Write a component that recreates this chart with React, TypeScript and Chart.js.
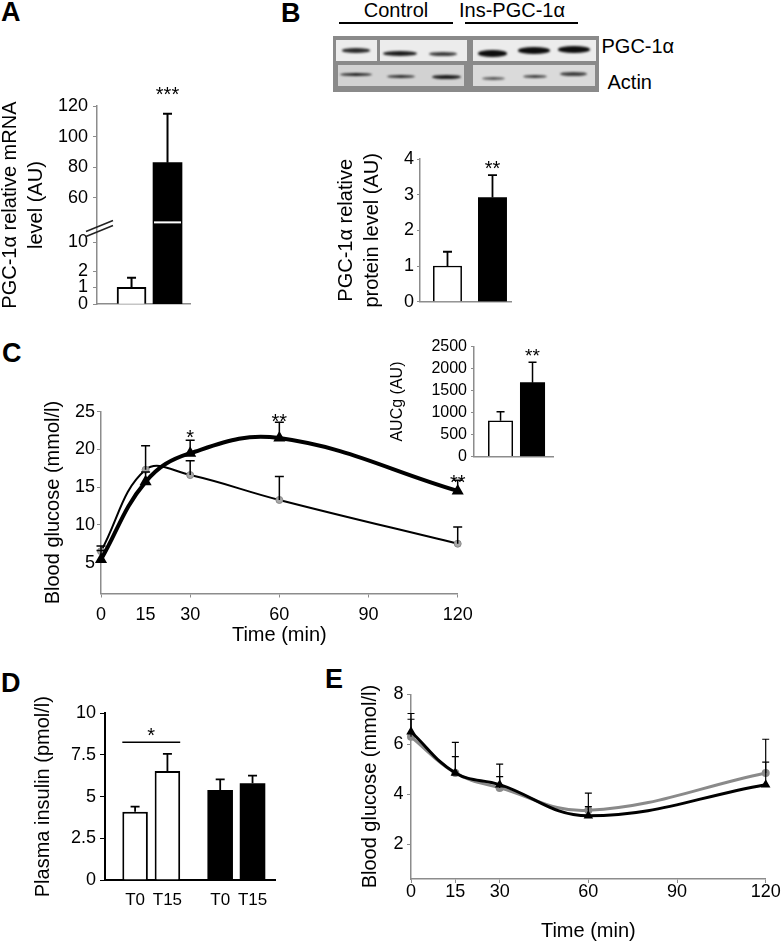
import React, { useEffect, useRef } from 'react';
import { Chart, registerables } from 'chart.js';

Chart.register(...registerables);

const FONT = "'Liberation Sans', Arial, Helvetica, sans-serif";
Chart.defaults.font.family = FONT;
Chart.defaults.color = '#000';

// ---------------- Panel A: PGC-1α mRNA ----------------
const A_GROUPS = ['Control', 'Ins-PGC-1α'];
const A_VALUES = [1, 83];
const A_ERR_TOP = [1.6, 115];
const A_STARS = ['', '***'];
const A_STAR_AT = [null, 131];
const A_TICKS = [0, 1, 2, 10, 60, 80, 100, 120];
// broken axis: value knots and their relative spacing on the axis
const A_AXIS_KNOTS = [0, 1, 2, 10, 40, 120];
const A_AXIS_SPACING = [0, 17, 33, 62, 76, 199];
const A_GAP_AT = 44;
const A_BREAK_AT = 38;

// ---------------- Panel B: PGC-1α protein ----------------
const B_GROUPS = ['Control', 'Ins-PGC-1α'];
const B_VALUES = [1.0, 2.92];
const B_ERR_TOP = [1.4, 3.55];
const B_STARS = ['', '**'];
const B_STAR_AT = [null, 3.88];
const B_TICKS = [0, 1, 2, 3, 4];

// ---------------- Panel C: IPGTT ----------------
const C_TIME = [0, 15, 30, 60, 120];
const C_CONTROL = [6.5, 17.3, 16.6, 13.3, 7.5];
const C_CONTROL_ERR_TOP = [7.2, 20.5, 18.5, 16.4, 9.7];
const C_INS = [5.4, 15.7, 19.5, 21.5, 14.5];
const C_INS_ERR_TOP = [6.6, 17.0, 21.2, 23.6, 15.9];
const C_STARS = ['', '', '*', '**', '**'];
const C_STAR_AT = [null, null, 22.2, 24.4, 16.3];
const C_Y_TICKS = [5, 10, 15, 20, 25];
const C_X_TICKS = [0, 15, 30, 60, 90, 120];
const C_X_NO_MARK = [15];

// ---------------- Panel C inset: AUCg ----------------
const AUC_GROUPS = ['Control', 'Ins-PGC-1α'];
const AUC_VALUES = [810, 1680];
const AUC_ERR_TOP = [1020, 2145];
const AUC_STARS = ['', '**'];
const AUC_STAR_AT = [null, 2390];
const AUC_TICKS = [0, 500, 1000, 1500, 2000, 2500];

// ---------------- Panel D: plasma insulin ----------------
const D_GROUPS = ['Control', 'Ins-PGC-1α'];
const D_TIME_LABELS = ['T0', 'T15'];
const D_T0 = [4.1, 5.4];
const D_T0_ERR_TOP = [4.4, 6.04];
const D_T15 = [6.54, 5.8];
const D_T15_ERR_TOP = [7.56, 6.26];
const D_SIG_AT = 8.26;
const D_SIG_STAR_AT = 8.94;
const D_SIG_TEXT = '*';
const D_TICKS = [0, 2.5, 5, 7.5, 10];

// ---------------- Panel E: ITT ----------------
const E_TIME = [0, 15, 30, 60, 120];
const E_CONTROL = [6.3, 4.85, 4.25, 3.35, 4.85];
const E_CONTROL_ERR_TOP = [7.0, 6.07, 5.2, 4.04, 6.2];
const E_INS = [6.5, 4.85, 4.38, 3.13, 4.38];
const E_INS_ERR_TOP = [7.23, 5.5, 4.7, 3.5, 5.28];
const E_Y_TICKS = [2, 4, 6, 8];
const E_X_TICKS = [0, 15, 30, 60, 90, 120];

// ---------------- styling ----------------
const AXIS_GRAY = '#8c8c8c';
const CTRL_GRAY = '#8a8a8a';

type Box = { left: number; top: number; width: number; height: number };
type Area = { left: number; top: number; right: number; bottom: number };

function piecewise(v: number, xs: number[], ys: number[]) {
  for (let i = 1; i < xs.length; i++) {
    if (v <= xs[i] || i === xs.length - 1) {
      const t = (v - xs[i - 1]) / (xs[i] - xs[i - 1]);
      return ys[i - 1] + t * (ys[i] - ys[i - 1]);
    }
  }
  return ys[0];
}
const fA = (v: number) => piecewise(v, A_AXIS_KNOTS, A_AXIS_SPACING);

function layoutFor(box: Box, area: Area) {
  return {
    padding: {
      left: 0,
      top: area.top - box.top,
      right: box.left + box.width - area.right,
      bottom: 0,
    },
    yWidth: area.left - box.left,
    xHeight: box.top + box.height - area.bottom,
  };
}

function yAxis(L: any, o: any) {
  return {
    type: 'linear',
    min: o.min,
    max: o.max,
    offset: false,
    afterFit: (s: any) => {
      s.width = L.yWidth;
    },
    afterBuildTicks: (s: any) => {
      s.ticks = o.ticks.map((v: number) => ({ value: v }));
    },
    ticks: {
      autoSkip: false,
      padding: o.tickPad,
      font: { size: o.tickSize },
      color: '#000',
      callback: o.cb || ((v: any) => String(v)),
    },
    grid: {
      display: true,
      drawOnChartArea: false,
      drawTicks: true,
      tickLength: o.tickLen,
      color: o.color,
      lineWidth: 1,
    },
    border: { display: true, color: o.color, width: o.axisWidth || 1.5 },
    title: o.title
      ? {
          display: true,
          text: o.title,
          color: '#000',
          font: { size: o.titleSize, lineHeight: o.titleLH },
          padding: { top: o.titlePad, bottom: 0 },
        }
      : { display: false },
  };
}

function xAxis(L: any, o: any) {
  return {
    type: 'linear',
    min: o.min,
    max: o.max,
    offset: false,
    afterFit: (s: any) => {
      s.height = L.xHeight;
    },
    afterBuildTicks: (s: any) => {
      s.ticks = o.ticks.map((v: number) => ({ value: v }));
    },
    ticks: {
      display: !!o.showLabels,
      autoSkip: false,
      maxRotation: 0,
      padding: o.tickPad || 0,
      font: { size: o.tickSize || 18 },
      color: '#000',
      callback: (v: any) => String(v),
    },
    grid: {
      display: !!o.showMarks,
      offset: false,
      drawOnChartArea: false,
      drawTicks: true,
      tickLength: o.tickLen || 4,
      color: o.markColor || o.color,
      lineWidth: 1,
    },
    border: { display: true, color: o.color, width: o.axisWidth || 1.5 },
    title: o.title
      ? {
          display: true,
          text: o.title,
          color: '#000',
          font: { size: 20, lineHeight: 1.2 },
          padding: { top: 0, bottom: o.titlePad },
        }
      : { display: false },
  };
}

// error bars (upward only) and significance stars
const decor = {
  id: 'decor',
  afterDatasetsDraw(chart: any, _args: any, opts: any) {
    const ctx = chart.ctx;
    const y = chart.scales.y;
    chart.data.datasets.forEach((ds: any, di: number) => {
      const meta = chart.getDatasetMeta(di);
      meta.data.forEach((el: any, i: number) => {
        if (ds.errTop && ds.errTop[i] != null) {
          const top = y.getPixelForValue(ds.errTop[i]);
          ctx.save();
          ctx.strokeStyle = ds.errColor || '#000';
          ctx.lineWidth = ds.errWidth || 1.5;
          ctx.beginPath();
          ctx.moveTo(el.x, el.y);
          ctx.lineTo(el.x, top);
          const cw = ds.errCap || 4;
          ctx.moveTo(el.x - cw, top);
          ctx.lineTo(el.x + cw, top);
          ctx.stroke();
          ctx.restore();
        }
      });
    });
    chart.data.datasets.forEach((ds: any, di: number) => {
      const meta = chart.getDatasetMeta(di);
      meta.data.forEach((el: any, i: number) => {
        if (ds.stars && ds.stars[i]) {
          const size = (opts && opts.starSize) || 20;
          const sy = y.getPixelForValue(ds.starAt[i]);
          ctx.save();
          ctx.font = `${size}px ${FONT}`;
          ctx.textAlign = 'center';
          ctx.textBaseline = 'alphabetic';
          ctx.fillStyle = '#000';
          ctx.fillText(ds.stars[i], el.x, sy + 0.57 * size);
          ctx.restore();
        }
      });
    });
  },
};

// panel A: white gap through the tall bar and the // axis break marks
const aBreak = {
  id: 'aBreak',
  afterDraw(chart: any) {
    const ctx = chart.ctx;
    const y = chart.scales.y;
    const el = chart.getDatasetMeta(0).data[1];
    const gy = y.getPixelForValue(fA(A_GAP_AT));
    ctx.save();
    ctx.fillStyle = '#fff';
    ctx.fillRect(el.x - el.width / 2 + 1, gy - 1, el.width - 2, 2);
    const by = y.getPixelForValue(fA(A_BREAK_AT));
    const ax = chart.chartArea.left;
    ctx.strokeStyle = '#222';
    ctx.lineWidth = 1.5;
    ctx.beginPath();
    ctx.moveTo(ax - 11, by + 2);
    ctx.lineTo(ax + 16, by - 9);
    ctx.moveTo(ax - 11, by + 7);
    ctx.lineTo(ax + 16, by - 4);
    ctx.stroke();
    ctx.restore();
  },
};

// panel D: T0/T15 labels under bars + significance bracket
const dExtras = {
  id: 'dExtras',
  afterDatasetsDraw(chart: any) {
    const ctx = chart.ctx;
    const y = chart.scales.y;
    const labelY = chart.chartArea.bottom + 20;
    ctx.save();
    ctx.font = `17px ${FONT}`;
    ctx.fillStyle = '#000';
    ctx.textAlign = 'center';
    ctx.textBaseline = 'middle';
    chart.data.datasets.forEach((ds: any, di: number) => {
      chart.getDatasetMeta(di).data.forEach((el: any) => {
        ctx.fillText(ds.label, el.x, labelY);
      });
    });
    const a = chart.getDatasetMeta(0).data[0];
    const b = chart.getDatasetMeta(1).data[0];
    const ly = y.getPixelForValue(D_SIG_AT);
    ctx.strokeStyle = '#000';
    ctx.lineWidth = 1.5;
    ctx.beginPath();
    ctx.moveTo(a.x - a.width / 2, ly);
    ctx.lineTo(b.x + b.width / 2, ly);
    ctx.stroke();
    const sy = y.getPixelForValue(D_SIG_STAR_AT);
    ctx.font = `20px ${FONT}`;
    ctx.textBaseline = 'alphabetic';
    ctx.fillText(D_SIG_TEXT, (a.x + b.x) / 2, sy + 0.57 * 20);
    ctx.restore();
  },
};

function baseOptions(L: any) {
  return {
    responsive: false,
    animation: false,
    devicePixelRatio: 1,
    events: [],
    layout: { padding: L.padding },
    plugins: { legend: { display: false }, tooltip: { enabled: false }, decor: {} },
  };
}

// ---------------- chart configs ----------------
const A_BOX: Box = { left: 0, top: 60, width: 200, height: 260 };
const A_AREA: Area = { left: 97, top: 106, right: 190, bottom: 305 };
function configA() {
  const L = layoutFor(A_BOX, A_AREA);
  return {
    type: 'bar',
    data: {
      datasets: [
        {
          label: 'mRNA',
          data: A_VALUES.map((v, i) => ({ x: i, y: fA(v) })),
          backgroundColor: ['#ffffff', '#000000'],
          borderColor: '#000',
          borderWidth: [2, 0],
          borderSkipped: 'bottom',
          barThickness: 29,
          errTop: A_ERR_TOP.map(fA),
          errWidth: 2,
          errCap: 4.5,
          stars: A_STARS,
          starAt: A_STAR_AT.map((v) => (v == null ? null : fA(v))),
          groups: A_GROUPS,
        },
      ],
    },
    options: {
      ...baseOptions(L),
      scales: {
        x: xAxis(L, { min: -0.96, max: 1.625, ticks: [0, 1], color: AXIS_GRAY }),
        y: yAxis(L, {
          min: 0,
          max: fA(120),
          ticks: A_TICKS.map(fA),
          cb: (_v: any, i: number) => String(A_TICKS[i]),
          tickPad: 5,
          tickLen: 4,
          tickSize: 18,
          color: AXIS_GRAY,
          title: ['PGC-1α relative mRNA', 'level (AU)'],
          titleSize: 20,
          titleLH: 1.3,
          titlePad: -3,
        }),
      },
    },
    plugins: [decor, aBreak],
  };
}

const B_BOX: Box = { left: 330, top: 140, width: 200, height: 180 };
const B_AREA: Area = { left: 420, top: 159, right: 511.7, bottom: 301.7 };
function configB() {
  const L = layoutFor(B_BOX, B_AREA);
  return {
    type: 'bar',
    data: {
      datasets: [
        {
          label: 'protein',
          data: B_VALUES.map((v, i) => ({ x: i, y: v })),
          backgroundColor: ['#ffffff', '#000000'],
          borderColor: '#000',
          borderWidth: [1.5, 0],
          borderSkipped: 'bottom',
          barThickness: 28.3,
          errTop: B_ERR_TOP,
          errWidth: 1.8,
          errCap: 4.5,
          stars: B_STARS,
          starAt: B_STAR_AT,
          groups: B_GROUPS,
        },
      ],
    },
    options: {
      ...baseOptions(L),
      scales: {
        x: xAxis(L, { min: -0.611, max: 1.427, ticks: [0, 1], color: AXIS_GRAY }),
        y: yAxis(L, {
          min: 0,
          max: 4,
          ticks: B_TICKS,
          tickPad: 3,
          tickLen: 3,
          tickSize: 18,
          color: AXIS_GRAY,
          title: ['PGC-1α relative', 'protein level (AU)'],
          titleSize: 20,
          titleLH: 1.3,
          titlePad: 3.7,
        }),
      },
    },
    plugins: [decor],
  };
}

const C_BOX: Box = { left: 0, top: 380, width: 480, height: 268 };
const C_AREA: Area = { left: 101, top: 411.7, right: 457.7, bottom: 593.5 };
function configC() {
  const L = layoutFor(C_BOX, C_AREA);
  return {
    type: 'line',
    data: {
      datasets: [
        {
          label: 'Ins-PGC-1α',
          data: C_TIME.map((t, i) => ({ x: t, y: C_INS[i] })),
          borderColor: '#000',
          borderWidth: 4,
          tension: 0.4,
          pointStyle: 'triangle',
          pointRadius: 3,
          pointBackgroundColor: '#000',
          pointBorderColor: '#000',
          clip: false,
          errTop: C_INS_ERR_TOP,
          errWidth: 1.5,
          errCap: 4.5,
          stars: C_STARS,
          starAt: C_STAR_AT,
        },
        {
          label: 'Control',
          data: C_TIME.map((t, i) => ({ x: t, y: C_CONTROL[i] })),
          borderColor: '#000',
          borderWidth: 2,
          tension: 0.4,
          pointStyle: 'circle',
          pointRadius: 3.5,
          pointBackgroundColor: '#a8a8a8',
          pointBorderColor: '#8a8a8a',
          pointBorderWidth: 1,
          clip: false,
          errTop: C_CONTROL_ERR_TOP,
          errWidth: 1.5,
          errCap: 4.5,
        },
      ],
    },
    options: {
      ...baseOptions(L),
      scales: {
        x: xAxis(L, {
          min: 0,
          max: 120,
          ticks: C_X_TICKS,
          showLabels: true,
          showMarks: true,
          tickLen: 4,
          tickPad: 6.7,
          tickSize: 18,
          color: AXIS_GRAY,
          markColor: (c: any) =>
            c.tick && C_X_NO_MARK.includes(c.tick.value) ? 'rgba(0,0,0,0)' : AXIS_GRAY,
          title: 'Time (min)',
          titlePad: 1,
        }),
        y: yAxis(L, {
          min: 0.9,
          max: 25,
          ticks: C_Y_TICKS,
          tickPad: 2,
          tickLen: 4,
          tickSize: 18,
          color: AXIS_GRAY,
          title: 'Blood glucose (mmol/l)',
          titleSize: 20,
          titleLH: 1.2,
          titlePad: 41,
        }),
      },
    },
    plugins: [decor],
  };
}

const AUC_BOX: Box = { left: 380, top: 330, width: 180, height: 140 };
const AUC_AREA: Area = { left: 474, top: 346.7, right: 553.3, bottom: 456.7 };
function configAUC() {
  const L = layoutFor(AUC_BOX, AUC_AREA);
  return {
    type: 'bar',
    data: {
      datasets: [
        {
          label: 'AUCg',
          data: AUC_VALUES.map((v, i) => ({ x: i, y: v })),
          backgroundColor: ['#ffffff', '#000000'],
          borderColor: '#000',
          borderWidth: [1.5, 0],
          borderSkipped: 'bottom',
          barThickness: 24.4,
          errTop: AUC_ERR_TOP,
          errWidth: 1.5,
          errCap: 4,
          stars: AUC_STARS,
          starAt: AUC_STAR_AT,
          groups: AUC_GROUPS,
        },
      ],
    },
    options: {
      ...baseOptions(L),
      plugins: { legend: { display: false }, tooltip: { enabled: false }, decor: { starSize: 19 } },
      scales: {
        x: xAxis(L, { min: -0.83, max: 1.65, ticks: [0, 1], color: AXIS_GRAY }),
        y: yAxis(L, {
          min: 0,
          max: 2500,
          ticks: AUC_TICKS,
          tickPad: 4,
          tickLen: 3,
          tickSize: 16,
          color: AXIS_GRAY,
          title: 'AUCg (AU)',
          titleSize: 16,
          titleLH: 1.2,
          titlePad: 8.4,
        }),
      },
    },
    plugins: [decor],
  };
}

const D_BOX: Box = { left: 0, top: 690, width: 290, height: 230 };
const D_AREA: Area = { left: 105, top: 713.3, right: 275, bottom: 880 };
function configD() {
  const L = layoutFor(D_BOX, D_AREA);
  const mk = (label: string, vals: number[], errs: number[]) => ({
    label,
    data: vals.map((v, i) => ({ x: i, y: v })),
    backgroundColor: ['#ffffff', '#000000'],
    borderColor: '#000',
    borderWidth: [2, 0],
    borderSkipped: 'bottom',
    categoryPercentage: 0.76,
    barPercentage: 0.79,
    errTop: errs,
    errWidth: 1.8,
    errCap: 4.5,
    groups: D_GROUPS,
  });
  return {
    type: 'bar',
    data: {
      datasets: [
        mk(D_TIME_LABELS[0], D_T0, D_T0_ERR_TOP),
        mk(D_TIME_LABELS[1], D_T15, D_T15_ERR_TOP),
      ],
    },
    options: {
      ...baseOptions(L),
      scales: {
        x: xAxis(L, { min: -0.5435, max: 1.454, ticks: [0, 1], color: '#000', axisWidth: 2 }),
        y: yAxis(L, {
          min: 0,
          max: 10,
          ticks: D_TICKS,
          tickPad: 4,
          tickLen: 5,
          tickSize: 18,
          color: '#000',
          axisWidth: 2,
          title: 'Plasma insulin (pmol/l)',
          titleSize: 20,
          titleLH: 1.2,
          titlePad: 31.3,
        }),
      },
    },
    plugins: [decor, dExtras],
  };
}

const E_BOX: Box = { left: 320, top: 680, width: 464, height: 264 };
const E_AREA: Area = { left: 411, top: 693.3, right: 765.7, bottom: 879 };
function configE() {
  const L = layoutFor(E_BOX, E_AREA);
  return {
    type: 'line',
    data: {
      datasets: [
        {
          label: 'Ins-PGC-1α',
          data: E_TIME.map((t, i) => ({ x: t, y: E_INS[i] })),
          borderColor: '#000',
          borderWidth: 3,
          tension: 0.4,
          pointStyle: 'triangle',
          pointRadius: 2.5,
          pointBackgroundColor: '#000',
          pointBorderColor: '#000',
          clip: false,
          errTop: E_INS_ERR_TOP,
          errWidth: 1.2,
          errCap: 3.5,
        },
        {
          label: 'Control',
          data: E_TIME.map((t, i) => ({ x: t, y: E_CONTROL[i] })),
          borderColor: CTRL_GRAY,
          borderWidth: 3,
          tension: 0.4,
          pointStyle: 'circle',
          pointRadius: 2.5,
          pointBackgroundColor: CTRL_GRAY,
          pointBorderColor: CTRL_GRAY,
          clip: false,
          errTop: E_CONTROL_ERR_TOP,
          errWidth: 1.2,
          errCap: 3.5,
          errColor: '#000',
        },
      ],
    },
    options: {
      ...baseOptions(L),
      scales: {
        x: xAxis(L, {
          min: 0,
          max: 120,
          ticks: E_X_TICKS,
          showLabels: true,
          showMarks: true,
          tickLen: 4,
          tickPad: -2.1,
          tickSize: 18,
          color: AXIS_GRAY,
          title: 'Time (min)',
          titlePad: 0.3,
        }),
        y: yAxis(L, {
          min: 0.6,
          max: 8,
          ticks: E_Y_TICKS,
          tickPad: 3.5,
          tickLen: 4,
          tickSize: 18,
          color: AXIS_GRAY,
          title: 'Blood glucose (mmol/l)',
          titleSize: 20,
          titleLH: 1.2,
          titlePad: 38,
        }),
      },
    },
    plugins: [decor],
  };
}

function ChartCanvas({ box, make }: { box: Box; make: () => any }) {
  const ref = useRef<HTMLCanvasElement>(null);
  useEffect(() => {
    const chart = new Chart(ref.current as HTMLCanvasElement, make());
    return () => chart.destroy();
  }, []);
  return (
    <canvas
      ref={ref}
      width={box.width}
      height={box.height}
      style={{
        position: 'absolute',
        left: box.left,
        top: box.top,
        width: box.width,
        height: box.height,
      }}
    />
  );
}

// ---------------- western blot (image stand-in) ----------------
const BLOT_TOP_PANELS = [
  [336, 377.3],
  [380, 467.3],
  [472.7, 595.7],
];
const BLOT_BOTTOM_PANELS: [number, number, string][] = [
  [338.3, 464, '#d2d2d2'],
  [472.7, 595, '#dadada'],
];
// [left, right, top, bottom, color]
const BLOT_BANDS: [number, number, number, number, string][] = [
  [341.7, 370, 48.3, 52.7, '#2a2a2a'],
  [383, 416.7, 51, 56, '#1c1c1c'],
  [429, 456.7, 52, 56, '#3a3a3a'],
  [478, 506.7, 50, 56.7, '#0d0d0d'],
  [518, 550, 47.3, 54, '#0d0d0d'],
  [558, 590, 46, 52.7, '#0d0d0d'],
  [340, 371.7, 73.3, 76.3, '#1e1e1e'],
  [386.7, 415, 75, 78, '#2a2a2a'],
  [431.7, 461, 75, 79, '#1a1a1a'],
  [481.7, 505, 77, 80, '#555'],
  [522.7, 546.7, 75, 78, '#3c3c3c'],
  [560, 586.7, 72, 76, '#3c3c3c'],
];

function Blot() {
  return (
    <>
      <div style={{ position: 'absolute', left: 333, top: 36, width: 266, height: 56, background: '#8a8a8a' }} />
      {BLOT_TOP_PANELS.map(([l, r], i) => (
        <div
          key={'t' + i}
          style={{ position: 'absolute', left: l, top: 40, width: r - l, height: 20.7, background: '#ececec' }}
        />
      ))}
      {BLOT_BOTTOM_PANELS.map(([l, r, c], i) => (
        <div
          key={'b' + i}
          style={{ position: 'absolute', left: l, top: 65, width: r - l, height: 21, background: c }}
        />
      ))}
      {BLOT_BANDS.map(([l, r, t, b, c], i) => (
        <div
          key={'band' + i}
          style={{
            position: 'absolute',
            left: l,
            top: t,
            width: r - l,
            height: b - t,
            background: c,
            borderRadius: '50%',
            filter: 'blur(0.8px)',
          }}
        />
      ))}
      <div style={{ position: 'absolute', left: 339, top: 22.3, width: 114, height: 1.5, background: '#000' }} />
      <div style={{ position: 'absolute', left: 465, top: 22.3, width: 113, height: 1.5, background: '#000' }} />
    </>
  );
}

const textStyle = (left: number, top: number, size: number, extra: any = {}) => ({
  position: 'absolute' as const,
  left,
  top,
  fontFamily: FONT,
  fontSize: size,
  lineHeight: '24px',
  color: '#000',
  whiteSpace: 'nowrap' as const,
  ...extra,
});

export default function App() {
  return (
    <div
      style={{
        position: 'absolute',
        left: 0,
        top: 0,
        width: 784,
        height: 944,
        background: '#fff',
        overflow: 'hidden',
        fontFamily: FONT,
      }}
    >
      {/* panel letters */}
      <div style={textStyle(1, -4.3, 27, { fontWeight: 'bold', lineHeight: '32px' })}>A</div>
      <div style={textStyle(281, -2.7, 27, { fontWeight: 'bold', lineHeight: '32px' })}>B</div>
      <div style={textStyle(2, 337, 27, { fontWeight: 'bold', lineHeight: '32px' })}>C</div>
      <div style={textStyle(1, 667.3, 27, { fontWeight: 'bold', lineHeight: '32px' })}>D</div>
      <div style={textStyle(325, 663.3, 27, { fontWeight: 'bold', lineHeight: '32px' })}>E</div>

      {/* blot */}
      <Blot />
      <div style={textStyle(296, -1.8, 20, { width: 200, textAlign: 'center' })}>Control</div>
      <div style={textStyle(412, -1.8, 20, { width: 200, textAlign: 'center' })}>Ins-PGC-1α</div>
      <div style={textStyle(601.5, 34.2, 20)}>PGC-1α</div>
      <div style={textStyle(607.5, 70.2, 20)}>Actin</div>

      <ChartCanvas box={A_BOX} make={configA} />
      <ChartCanvas box={B_BOX} make={configB} />
      <ChartCanvas box={C_BOX} make={configC} />
      <ChartCanvas box={AUC_BOX} make={configAUC} />
      <ChartCanvas box={D_BOX} make={configD} />
      <ChartCanvas box={E_BOX} make={configE} />
    </div>
  );
}
